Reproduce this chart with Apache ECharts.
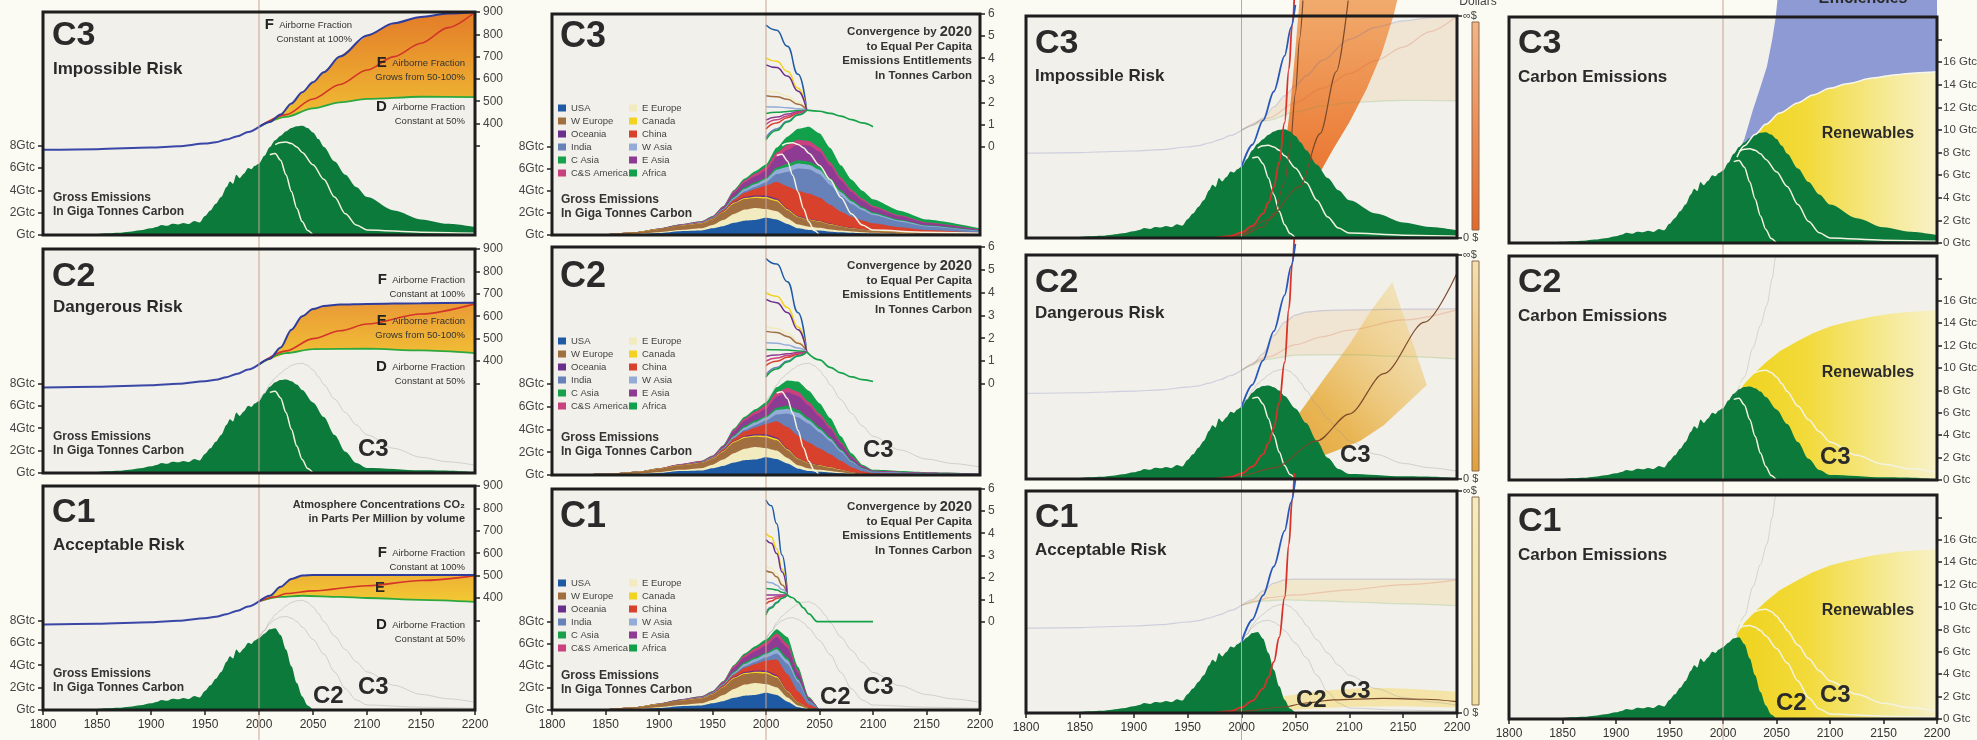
<!DOCTYPE html>
<html>
<head>
<meta charset="utf-8">
<title>Contraction and Convergence C1 C2 C3</title>
<script src="https://cdn.jsdelivr.net/npm/echarts@6/dist/echarts.min.js"></script>
<style>
  html, body { margin: 0; padding: 0; background: #fbfbf3; }
  #chart { width: 1977px; height: 740px; }
</style>
</head>
<body>
<div id="chart"></div>
<script>
const FONT = '"Liberation Sans", Arial, sans-serif';

// ---------- axis ticks ----------
const yearTicks = [1800, 1850, 1900, 1950, 2000, 2050, 2100, 2150, 2200];
const refYear = 2000;
const gtcLeftTicks = [0, 2, 4, 6, 8];
const ppmTicks = [300, 400, 500, 600, 700, 800, 900];
const ppmLabels = [400, 500, 600, 700, 800, 900];
const perCapitaTicks = [0, 1, 2, 3, 4, 5, 6];
const gtcRightTicks = [0, 2, 4, 6, 8, 10, 12, 14, 16, 18];
const gtcRightLabels = [0, 2, 4, 6, 8, 10, 12, 14, 16];
const dollarTicks = [0, 100];

// ---------- gross emissions (Gtc) ----------
const histYears = [1800, 1820, 1840, 1850, 1860, 1870, 1880, 1890, 1900, 1905, 1910, 1915, 1920, 1925, 1930, 1935, 1940, 1945, 1950, 1955, 1960, 1965, 1970, 1973, 1976, 1979, 1982, 1986, 1990, 1993, 1996, 2000];
const histGtc = [0, 0.02, 0.05, 0.1, 0.15, 0.2, 0.3, 0.42, 0.6, 0.72, 0.9, 0.82, 1.0, 0.95, 1.08, 0.98, 1.25, 1.12, 1.7, 2.2, 2.8, 3.4, 4.3, 4.8, 4.6, 5.4, 5.1, 5.5, 6.0, 5.9, 6.2, 6.4];
const c3Years = [2005, 2010, 2015, 2020, 2025, 2030, 2035, 2040, 2045, 2050, 2055, 2060, 2070, 2080, 2090, 2100, 2125, 2150, 2175, 2200];
const c3Gtc = [7.1, 7.9, 8.5, 8.9, 9.3, 9.6, 9.75, 9.8, 9.6, 9.2, 8.6, 7.9, 6.6, 5.4, 4.3, 3.4, 2.2, 1.4, 1.0, 0.7];
const c2Years = [2005, 2010, 2015, 2020, 2025, 2030, 2035, 2040, 2050, 2060, 2070, 2080, 2090, 2100, 2150, 2200];
const c2Gtc = [7.1, 7.7, 8.1, 8.3, 8.35, 8.2, 7.9, 7.4, 6.3, 5.0, 3.4, 1.9, 0.9, 0.45, 0.25, 0.15];
const c1Years = [2005, 2010, 2015, 2020, 2025, 2030, 2035, 2040, 2045, 2050];
const c1Gtc = [6.8, 7.2, 7.3, 6.7, 5.4, 3.9, 2.4, 1.2, 0.4, 0];

// ---------- CO2 concentrations (ppm) ----------
const ppmHistYears = [1800, 1850, 1900, 1925, 1950, 1960, 1970, 1980, 1990, 2000];
const ppmHist = [282, 285, 292, 298, 310, 316, 328, 343, 362, 385];
const c3FYears = [2000, 2010, 2020, 2030, 2040, 2050, 2060, 2075, 2100, 2125, 2150, 2175, 2200];
const c3F = [385, 407, 440, 490, 540, 585, 630, 700, 795, 850, 878, 893, 900];
const c3EYears = [2000, 2025, 2050, 2075, 2100, 2125, 2150, 2175, 2200];
const c3E = [385, 440, 510, 575, 640, 700, 760, 830, 900];
const c3DYears = [2000, 2025, 2050, 2075, 2100, 2150, 2200];
const c3D = [385, 430, 468, 495, 510, 520, 518];
const c2FYears = [2000, 2010, 2020, 2030, 2040, 2050, 2060, 2075, 2100, 2150, 2200];
const c2F = [385, 410, 460, 540, 600, 632, 645, 652, 655, 658, 660];
const c2EYears = [2000, 2025, 2050, 2075, 2100, 2150, 2200];
const c2E = [385, 445, 500, 535, 565, 610, 655];
const c2DYears = [2000, 2025, 2050, 2100, 2150, 2200];
const c2D = [385, 435, 453, 455, 447, 435];
const c1FYears = [2000, 2010, 2020, 2030, 2040, 2050, 2100, 2200];
const c1F = [385, 410, 450, 485, 500, 503, 503, 503];
const c1EYears = [2000, 2015, 2025, 2050, 2100, 2150, 2200];
const c1E = [385, 405, 420, 432, 455, 478, 500];
const c1DYears = [2000, 2020, 2040, 2075, 2100, 2150, 2200];
const c1D = [385, 405, 410, 405, 400, 392, 383];

// ---------- regional emissions (Gtc), stacking order bottom -> top ----------
const regions = ['USA', 'E Europe', 'W Europe', 'Canada', 'Oceania', 'China', 'India', 'W Asia', 'C Asia', 'E Asia', 'C&S America', 'Africa'];
const regHistYears = [1800, 1850, 1880, 1900, 1920, 1940, 1950, 1960, 1970, 1980, 1990, 2000];
const regHist = [
  [0, 0.02, 0.08, 0.18, 0.35, 0.4, 0.6, 0.8, 1.1, 1.3, 1.35, 1.55],
  [0, 0.01, 0.03, 0.07, 0.1, 0.2, 0.3, 0.55, 0.8, 1.0, 1.1, 0.8],
  [0, 0.07, 0.17, 0.3, 0.4, 0.45, 0.5, 0.7, 0.95, 0.95, 0.9, 0.95],
  [0, 0, 0, 0.01, 0.02, 0.02, 0.04, 0.05, 0.08, 0.1, 0.12, 0.15],
  [0, 0, 0, 0.01, 0.01, 0.02, 0.03, 0.05, 0.07, 0.08, 0.1, 0.12],
  [0, 0, 0, 0, 0.01, 0.02, 0.03, 0.1, 0.2, 0.4, 0.6, 0.9],
  [0, 0, 0, 0, 0.01, 0.02, 0.03, 0.05, 0.08, 0.13, 0.2, 0.3],
  [0, 0, 0, 0, 0.01, 0.02, 0.03, 0.05, 0.1, 0.2, 0.25, 0.3],
  [0, 0, 0, 0, 0, 0.01, 0.02, 0.05, 0.1, 0.15, 0.15, 0.1],
  [0, 0, 0, 0.01, 0.03, 0.05, 0.05, 0.1, 0.35, 0.45, 0.55, 0.65],
  [0, 0, 0, 0.01, 0.02, 0.03, 0.05, 0.07, 0.15, 0.2, 0.25, 0.3],
  [0, 0, 0, 0, 0.01, 0.02, 0.03, 0.05, 0.1, 0.15, 0.2, 0.25]
];
const regYearsC3 = [2010, 2020, 2030, 2040, 2050, 2060, 2070, 2080, 2090, 2100, 2125, 2150, 2200];
const regC3 = [
  [1.4, 1.0, 0.6, 0.45, 0.4, 0.3, 0.25, 0.2, 0.16, 0.13, 0.09, 0.06, 0.03],
  [0.75, 0.5, 0.35, 0.3, 0.25, 0.2, 0.15, 0.12, 0.1, 0.08, 0.05, 0.03, 0.01],
  [0.9, 0.75, 0.65, 0.6, 0.55, 0.45, 0.35, 0.28, 0.22, 0.18, 0.12, 0.08, 0.03],
  [0.14, 0.08, 0.06, 0.05, 0.05, 0.04, 0.03, 0.03, 0.02, 0.02, 0.01, 0.01, 0.005],
  [0.12, 0.07, 0.05, 0.05, 0.05, 0.04, 0.03, 0.02, 0.02, 0.02, 0.01, 0.01, 0.005],
  [1.5, 2.0, 2.3, 2.3, 2.1, 1.7, 1.3, 1.0, 0.8, 0.63, 0.43, 0.27, 0.11],
  [0.7, 1.3, 2.0, 2.2, 2.1, 1.8, 1.45, 1.15, 0.92, 0.74, 0.5, 0.32, 0.14],
  [0.4, 0.45, 0.45, 0.4, 0.4, 0.35, 0.3, 0.24, 0.19, 0.15, 0.1, 0.06, 0.03],
  [0.2, 0.3, 0.3, 0.3, 0.3, 0.25, 0.2, 0.16, 0.13, 0.1, 0.07, 0.04, 0.02],
  [0.95, 1.25, 1.4, 1.45, 1.35, 1.15, 0.9, 0.7, 0.56, 0.45, 0.31, 0.2, 0.08],
  [0.4, 0.45, 0.45, 0.4, 0.35, 0.3, 0.25, 0.2, 0.16, 0.13, 0.09, 0.06, 0.03],
  [0.45, 0.75, 1.0, 1.3, 1.3, 1.3, 1.1, 0.9, 0.72, 0.6, 0.42, 0.26, 0.11]
];
const regYearsC2 = [2010, 2020, 2030, 2040, 2050, 2060, 2070, 2080, 2090, 2100, 2150, 2200];
const regC2 = [
  [1.4, 1.0, 0.55, 0.35, 0.28, 0.22, 0.15, 0.08, 0.04, 0.02, 0.01, 0.01],
  [0.75, 0.5, 0.3, 0.22, 0.17, 0.13, 0.09, 0.05, 0.02, 0.01, 0.01, 0],
  [0.9, 0.7, 0.55, 0.45, 0.37, 0.29, 0.2, 0.11, 0.05, 0.03, 0.01, 0.01],
  [0.14, 0.08, 0.05, 0.04, 0.03, 0.03, 0.02, 0.01, 0.01, 0, 0, 0],
  [0.12, 0.07, 0.05, 0.04, 0.03, 0.03, 0.02, 0.01, 0.01, 0, 0, 0],
  [1.4, 1.85, 1.95, 1.75, 1.45, 1.13, 0.76, 0.43, 0.2, 0.1, 0.05, 0.03],
  [0.6, 1.2, 1.6, 1.65, 1.42, 1.14, 0.78, 0.44, 0.21, 0.1, 0.06, 0.04],
  [0.4, 0.42, 0.4, 0.3, 0.27, 0.22, 0.15, 0.08, 0.04, 0.02, 0.01, 0.01],
  [0.2, 0.28, 0.27, 0.22, 0.2, 0.15, 0.1, 0.06, 0.03, 0.01, 0.01, 0],
  [0.95, 1.15, 1.2, 1.08, 0.9, 0.72, 0.49, 0.27, 0.13, 0.07, 0.04, 0.02],
  [0.4, 0.4, 0.38, 0.3, 0.25, 0.2, 0.14, 0.08, 0.04, 0.02, 0.01, 0.01],
  [0.45, 0.65, 0.9, 1.0, 0.93, 0.74, 0.5, 0.28, 0.12, 0.07, 0.04, 0.02]
];
const regYearsC1 = [2010, 2020, 2030, 2040, 2050];
const regC1 = [
  [1.35, 0.75, 0.25, 0.06, 0],
  [0.7, 0.38, 0.15, 0.04, 0],
  [0.88, 0.55, 0.28, 0.08, 0],
  [0.13, 0.06, 0.03, 0.01, 0],
  [0.11, 0.05, 0.02, 0.01, 0],
  [1.4, 1.45, 0.95, 0.29, 0],
  [0.55, 0.95, 0.85, 0.28, 0],
  [0.38, 0.33, 0.18, 0.05, 0],
  [0.2, 0.22, 0.13, 0.04, 0],
  [0.9, 0.9, 0.55, 0.17, 0],
  [0.35, 0.35, 0.16, 0.05, 0],
  [0.35, 0.61, 0.35, 0.12, 0]
];

// ---------- per capita entitlements (tonnes carbon) ----------
const pcYearsC3 = [2000, 2010, 2020, 2030, 2038];
const pcC3 = [
  [5.5, 5.27, 4.54, 3.27, 1.65], [2.5, 2.45, 2.29, 2.01, 1.65], [2.3, 2.26, 2.14, 1.92, 1.65],
  [4.0, 3.86, 3.41, 2.64, 1.65], [3.7, 3.58, 3.19, 2.51, 1.65], [0.8, 1.07, 1.31, 1.51, 1.65],
  [0.4, 0.8, 1.15, 1.45, 1.65], [1.8, 1.79, 1.76, 1.71, 1.65], [1.5, 1.55, 1.59, 1.63, 1.65],
  [1.2, 1.34, 1.47, 1.58, 1.65], [1.0, 1.21, 1.39, 1.55, 1.65], [0.3, 0.73, 1.11, 1.43, 1.65]
];
const pcYearsC2 = [2000, 2010, 2020, 2030, 2038];
const pcC2 = [
  [5.5, 5.25, 4.48, 3.12, 1.4], [2.5, 2.43, 2.23, 1.86, 1.4], [2.3, 2.25, 2.08, 1.78, 1.4],
  [4.0, 3.84, 3.35, 2.49, 1.4], [3.7, 3.56, 3.13, 2.37, 1.4], [0.8, 0.99, 1.16, 1.3, 1.4],
  [0.4, 0.72, 1.0, 1.24, 1.4], [1.8, 1.78, 1.7, 1.57, 1.4], [1.5, 1.49, 1.48, 1.44, 1.4],
  [1.2, 1.26, 1.32, 1.37, 1.4], [1.0, 1.13, 1.24, 1.34, 1.4], [0.3, 0.65, 0.96, 1.22, 1.4]
];
const pcYearsC1 = [2000, 2005, 2010, 2015, 2020];
const pcC1 = [
  [5.5, 5.24, 4.43, 3.01, 1.2], [2.5, 2.42, 2.18, 1.75, 1.2], [2.3, 2.23, 2.03, 1.66, 1.2],
  [4.0, 3.83, 3.3, 2.38, 1.2], [3.7, 3.55, 3.08, 2.25, 1.2], [0.8, 0.93, 1.04, 1.14, 1.2],
  [0.4, 0.66, 0.88, 1.07, 1.2], [1.8, 1.76, 1.65, 1.45, 1.2], [1.5, 1.48, 1.43, 1.33, 1.2],
  [1.2, 1.2, 1.2, 1.2, 1.2], [1.0, 1.06, 1.12, 1.17, 1.2], [0.3, 0.61, 0.84, 1.06, 1.2]
];
const postYearsC3 = [2038, 2050, 2060, 2070, 2080, 2090, 2100];
const postC3 = [1.65, 1.6, 1.5, 1.38, 1.22, 1.07, 0.9];
const postYearsC2 = [2038, 2050, 2060, 2070, 2080, 2090, 2100];
const postC2 = [1.4, 1.05, 0.72, 0.48, 0.3, 0.18, 0.1];
const postYearsC1 = [2020, 2025, 2030, 2035, 2040, 2048, 2100];
const postC1 = [1.2, 1.08, 0.88, 0.62, 0.35, 0, 0];

// ---------- dollars (0 = 0 $, 100 = infinite) ----------
const redYears = [1975, 1990, 2000, 2010, 2020, 2025, 2030, 2035, 2040, 2044, 2047, 2049];
const redUsd = [0, 0.8, 2.5, 5.5, 11, 16, 23, 34, 52, 76, 96, 108];
const blueYears = [2000, 2010, 2020, 2030, 2040, 2046, 2050];
const blueUsd = [32, 42, 53, 66, 82, 95, 105];
const dmgC3UpYears = [1977, 1990, 2000, 2011, 2020, 2029, 2035, 2039, 2045, 2050, 2054];
const dmgC3Up = [0, 2, 4, 8, 13, 20, 28, 35, 58, 85, 108];
const dmgC3LoYears = [1992, 2000, 2010, 2023, 2040, 2054, 2070, 2085, 2100, 2116, 2130, 2141, 2145];
const dmgC3Lo = [0, 0.8, 2.5, 5, 10, 17, 27, 40, 52, 67, 83, 100, 108];
const dmgC3MidAYears = [1980, 2000, 2020, 2030, 2040, 2045, 2050, 2054, 2057];
const dmgC3MidA = [0, 1.2, 5, 11, 25, 40, 65, 90, 107];
const dmgC3MidBYears = [1982, 2000, 2023, 2054, 2073, 2088, 2099];
const dmgC3MidB = [0, 2, 8, 23, 47, 75, 107];
const dmgC2UpYears = [1977, 2000, 2023, 2050, 2077, 2100, 2120, 2140];
const dmgC2Up = [0, 5, 14, 27, 45, 60, 75, 88];
const dmgC2LoYears = [1992, 2020, 2050, 2085, 2110, 2132, 2150, 2172];
const dmgC2Lo = [0, 2, 6, 12, 17, 24, 32, 42];
const dmgC2MidYears = [1977, 2000, 2030, 2070, 2100, 2132, 2170, 2200];
const dmgC2Mid = [0, 1.5, 5, 17, 29, 47, 70, 92];
const dmgC1UpYears = [1977, 2000, 2020, 2039, 2060, 2085, 2110, 2132, 2160, 2200];
const dmgC1Up = [0, 2, 4.5, 7.4, 9.2, 10.4, 11.1, 11.3, 10.8, 9.6];
const dmgC1LoYears = [1990, 2010, 2040, 2060, 2100, 2150, 2200];
const dmgC1Lo = [0, 0.2, 1, 1.8, 2.8, 3, 2.5];
const dmgC1MidYears = [1977, 2000, 2039, 2060, 2085, 2132, 2170, 2200];
const dmgC1Mid = [0, 0.8, 2.7, 4.5, 5.9, 6.6, 6.2, 5.1];

// ---------- renewables / efficiencies (Gtc) ----------
const renewYears = [2013, 2020, 2030, 2040, 2053, 2070, 2084, 2100, 2116, 2140, 2162, 2180, 2200];
const renewGtc = [7.6, 8.6, 9.6, 10.5, 11.5, 12.4, 13.1, 13.7, 14.1, 14.6, 14.9, 15.05, 15.15];
const effYears = [2012, 2020, 2028, 2035, 2041, 2046, 2049, 2052, 2200];
const effGtc = [7.5, 9.2, 11.8, 13.8, 15.6, 18, 19.8, 22.5, 22.5];

// ---------- styling ----------
const regionColors = ['#1f5ba5', '#f1ebbf', '#a06e3f', '#f2d31f', '#6b2e8c', '#d8412c', '#6781b9', '#93acd8', '#18a04a', '#8e3b94', '#c9417f', '#13a04b'];
const GREEN = '#0b7a3a';
const WHITE_LINE = '#f3f3e2';
const FAINT = 'rgba(150,150,150,0.35)';
const GRID_BG = '#f1f0ea';
const cols = [
  { left: 43, right: 475 },
  { left: 552, right: 980 },
  { left: 1026, right: 1457 },
  { left: 1509, right: 1937 }
];
const rows = [
  [[12, 235], [249, 473], [486, 710]],
  [[14, 235], [247, 475], [489, 710]],
  [[16, 238], [255, 479], [491, 713]],
  [[17, 243], [256, 480], [495, 719]]
];
const tickStyle = { length: 5, lineStyle: { color: '#222', width: 1.5 } };
const labelStyle = { fontSize: 12, color: '#444', margin: 8, fontFamily: FONT };

function pairs(xs, ys) { return xs.map((x, i) => [x, ys[i]]); }

const totals = [
  pairs(histYears, histGtc).concat(pairs(c3Years, c3Gtc)),
  pairs(histYears, histGtc).concat(pairs(c2Years, c2Gtc)),
  pairs(histYears, histGtc).concat(pairs(c1Years, c1Gtc))
];
const futures = [
  pairs(c3Years, c3Gtc).slice(1),
  pairs(c2Years, c2Gtc).slice(2),
  pairs(c1Years, c1Gtc).slice(1)
];
const outlines = [
  [[refYear, 6.4]].concat(pairs(c3Years, c3Gtc)),
  [[refYear, 6.4]].concat(pairs(c2Years, c2Gtc)),
  [[refYear, 6.4]].concat(pairs(c1Years, c1Gtc))
];
const ppmSets = [
  { F: pairs(c3FYears, c3F), E: pairs(c3EYears, c3E), D: pairs(c3DYears, c3D) },
  { F: pairs(c2FYears, c2F), E: pairs(c2EYears, c2E), D: pairs(c2DYears, c2D) },
  { F: pairs(c1FYears, c1F), E: pairs(c1EYears, c1E), D: pairs(c1DYears, c1D) }
];
const ppmHistData = pairs(ppmHistYears, ppmHist);
const regFuture = [[regYearsC3, regC3], [regYearsC2, regC2], [regYearsC1, regC1]];
const pcSets = [[pcYearsC3, pcC3, postYearsC3, postC3], [pcYearsC2, pcC2, postYearsC2, postC2], [pcYearsC1, pcC1, postYearsC1, postC1]];
const dmgSets = [
  { up: pairs(dmgC3UpYears, dmgC3Up), lo: pairs(dmgC3LoYears, dmgC3Lo), mids: [pairs(dmgC3MidAYears, dmgC3MidA), pairs(dmgC3MidBYears, dmgC3MidB)] },
  { up: pairs(dmgC2UpYears, dmgC2Up), lo: pairs(dmgC2LoYears, dmgC2Lo), mids: [pairs(dmgC2MidYears, dmgC2Mid)] },
  { up: pairs(dmgC1UpYears, dmgC1Up), lo: pairs(dmgC1LoYears, dmgC1Lo), mids: [pairs(dmgC1MidYears, dmgC1Mid)] }
];
const ppmBandColors = [['#e37c29', '#f1c234'], ['#e99a37', '#f2c434'], ['#eeb236', '#f2c932']];

const option = {
  backgroundColor: '#fbfbf3',
  animation: false,
  textStyle: { fontFamily: FONT },
  grid: [], xAxis: [], yAxis: [], series: [], legend: [], graphic: []
};

function addPanel(c, r) {
  const top = rows[c][r][0], bottom = rows[c][r][1];
  const left = cols[c].left, width = cols[c].right - cols[c].left, height = bottom - top;
  const gi = option.grid.length;
  const last = r === 2;
  option.grid.push({ left, top, width, height, show: true, backgroundColor: GRID_BG, borderWidth: 0, containLabel: false, outerBoundsMode: 'none' });
  option.xAxis.push({
    type: 'value', gridIndex: gi,
    min: yearTicks[0], max: yearTicks[yearTicks.length - 1], interval: yearTicks[1] - yearTicks[0],
    axisLine: { show: false }, splitLine: { show: false },
    axisTick: Object.assign({ show: last }, tickStyle),
    axisLabel: { show: last, fontSize: 12, color: '#333', margin: 9, fontFamily: FONT, formatter: v => String(v) }
  });
  option.graphic.push({ type: 'rect', z: 100, silent: true, shape: { x: left, y: top, width, height }, style: { fill: 'none', stroke: '#1d1d1d', lineWidth: 3 } });
  return gi;
}
function addY(gi, o) {
  option.yAxis.push(Object.assign({ type: 'value', gridIndex: gi, splitLine: { show: false } }, o));
  return option.yAxis.length - 1;
}
function hiddenY(gi, min, max) { return addY(gi, { show: false, min, max }); }
function gtcLeftAxis(gi) {
  return addY(gi, {
    position: 'left', min: 0, max: 20, interval: 2, axisLine: { show: false },
    axisTick: Object.assign({ show: true, customValues: gtcLeftTicks }, tickStyle),
    axisLabel: Object.assign({ customValues: gtcLeftTicks, formatter: v => (v === 0 ? '' : v) + 'Gtc' }, labelStyle)
  });
}
function area(gi, yi, data, color, extra) {
  option.series.push(Object.assign({
    type: 'line', xAxisIndex: gi, yAxisIndex: yi, data, symbol: 'none', smooth: 0.3, smoothMonotone: 'x',
    lineStyle: { width: 0 }, areaStyle: { color, opacity: 1 }, itemStyle: { color }, silent: true
  }, extra || {}));
}
function line(gi, yi, data, color, width, extra) {
  option.series.push(Object.assign({
    type: 'line', xAxisIndex: gi, yAxisIndex: yi, data, symbol: 'none', smooth: 0.3, smoothMonotone: 'x',
    lineStyle: { color, width }, itemStyle: { color }, silent: true
  }, extra || {}));
}
function poly(gi, yi, upper, lower, fill) {
  option.series.push({
    type: 'custom', xAxisIndex: gi, yAxisIndex: yi, silent: true, clip: false,
    data: [upper[0]],
    renderItem: (params, api) => {
      const pts = upper.concat(lower.slice().reverse()).map(p => api.coord(p));
      return { type: 'polygon', shape: { points: pts }, style: { fill } };
    }
  });
}
function txt(x, y, text, size, o) {
  option.graphic.push({
    type: 'text', z: 101, silent: true, x, y,
    style: Object.assign({ text, fontSize: size, fontWeight: 'bold', fontFamily: FONT, fill: '#2a2a2a', align: 'left', verticalAlign: 'middle' }, o || {})
  });
}
function afLabel(x, y, letter, line2) {
  txt(x, y, '{L|' + letter + '}  Airborne Fraction', 9.5, { align: 'right', fontWeight: 'normal', fill: '#333', rich: { L: { fontSize: 15, fontWeight: 'bold', fill: '#222', fontFamily: FONT } } });
  txt(x, y + 14.5, line2, 9.5, { align: 'right', fontWeight: 'normal', fill: '#333' });
}
function grossLabel(x, y) {
  txt(x, y, 'Gross Emissions', 12, { fill: '#333' });
  txt(x, y + 14, 'In Giga Tonnes Carbon', 12, { fill: '#333' });
}
function convBlock(x, y) {
  txt(x, y, 'Convergence by {b|2020}', 11.5, { align: 'right', fill: '#333', rich: { b: { fontSize: 14.5, fontWeight: 'bold', fill: '#333', fontFamily: FONT } } });
  txt(x, y + 14.5, 'to Equal Per Capita', 11.5, { align: 'right', fill: '#333' });
  txt(x, y + 29, 'Emissions Entitlements', 11.5, { align: 'right', fill: '#333' });
  txt(x, y + 43.5, 'In Tonnes Carbon', 11.5, { align: 'right', fill: '#333' });
}
function faintOutlines(gi, yi, r) {
  for (let k = 0; k < r; k++) line(gi, yi, outlines[k], FAINT, 1);
}
function whiteLines(gi, yi, r) {
  for (let k = r + 1; k < 3; k++) line(gi, yi, futures[k], WHITE_LINE, 1.5);
}

// ---------- column 1: concentrations ----------
function buildCol1(r) {
  const gi = addPanel(0, r);
  const yG = gtcLeftAxis(gi);
  const yP = addY(gi, {
    position: 'right', min: -100, max: 900, interval: 100, axisLine: { show: false },
    axisTick: Object.assign({ show: true, customValues: ppmTicks }, tickStyle),
    axisLabel: Object.assign({ customValues: ppmLabels }, labelStyle)
  });
  const p = ppmSets[r];
  poly(gi, yP, p.F, p.D, new echarts.graphic.LinearGradient(0, 0, 0, 1, [
    { offset: 0, color: ppmBandColors[r][0] }, { offset: 1, color: ppmBandColors[r][1] }]));
  line(gi, yP, ppmHistData, '#3b47a6', 2);
  line(gi, yP, p.D, '#2ea83e', 1.8);
  line(gi, yP, p.E, '#d4352a', 1.6);
  line(gi, yP, p.F, '#2f3d9c', 2);
  faintOutlines(gi, yG, r);
  area(gi, yG, totals[r], GREEN);
  whiteLines(gi, yG, r);
}

// ---------- column 2: regional contraction & convergence ----------
function buildCol2(r) {
  const gi = addPanel(1, r);
  const yG = gtcLeftAxis(gi);
  const yC = addY(gi, {
    position: 'right', min: -4, max: 6, interval: 1, axisLine: { show: false },
    axisTick: Object.assign({ show: true, customValues: perCapitaTicks }, tickStyle),
    axisLabel: Object.assign({ customValues: perCapitaTicks }, labelStyle)
  });
  faintOutlines(gi, yG, r);
  // cumulative stack table, painted from the top band down
  const years = regHistYears.concat(regFuture[r][0]);
  const rowsVals = regions.map((_, k) => regHist[k].concat(regFuture[r][1][k]));
  const cum = [];
  rowsVals.forEach((vals, k) => cum.push(vals.map((v, i) => v + (k ? cum[k - 1][i] : 0))));
  for (let k = regions.length - 1; k >= 0; k--) {
    area(gi, yG, pairs(years, cum[k]), regionColors[k], { name: regions[k], smooth: 0.2 });
  }
  whiteLines(gi, yG, r);
  const pc = pcSets[r];
  regions.forEach((name, k) => line(gi, yC, pairs(pc[0], pc[1][k]), regionColors[k], 1.5, { name, smooth: 0.5 }));
  line(gi, yC, pairs(pc[2], pc[3]), '#16a24a', 1.7, { smooth: 0.4 });
  option.legend.push({
    orient: 'vertical', left: 558, top: rows[1][r][0] + 88, height: 82, itemGap: 1,
    itemWidth: 8, itemHeight: 7, icon: 'rect', padding: 0, selectedMode: false,
    textStyle: { fontSize: 9.5, color: '#444', fontFamily: FONT, lineHeight: 12 },
    data: regions.filter((_, i) => i % 2 === 0).concat(regions.filter((_, i) => i % 2 === 1))
  });
}

// ---------- column 3: damages vs. costs ----------
const dmgFills = [
  () => new echarts.graphic.LinearGradient(0, 0, 0, 1, [{ offset: 0, color: '#f1ab6d' }, { offset: 0.55, color: '#ec8440' }, { offset: 1, color: '#e5621f' }]),
  () => new echarts.graphic.LinearGradient(0, 1, 1, 0, [{ offset: 0, color: 'rgba(224,148,36,1)' }, { offset: 0.45, color: 'rgba(232,176,70,0.9)' }, { offset: 1, color: 'rgba(245,222,160,0.45)' }]),
  () => 'rgba(244,226,160,0.9)'
];
const barColors = [['#f2b588', '#e4682c'], ['#f3e1b4', '#e0a03e'], ['#f4ecbf', '#eee0a2']];
function buildCol3(r) {
  const gi = addPanel(2, r);
  const yG = hiddenY(gi, 0, 20);
  const yP = hiddenY(gi, -100, 900);
  const yD = addY(gi, {
    position: 'right', min: 0, max: 100, interval: 100, axisLine: { show: false },
    axisTick: Object.assign({ show: true, customValues: dollarTicks }, tickStyle),
    axisLabel: Object.assign({ customValues: dollarTicks, formatter: v => (v === 0 ? '0 $' : '\u221E$') }, labelStyle, { fontSize: 11, margin: 6 })
  });
  const p = ppmSets[r];
  poly(gi, yP, p.F, p.D, r === 2 ? 'rgba(240,215,150,0.35)' : 'rgba(240,195,140,0.25)');
  line(gi, yP, ppmHistData, 'rgba(80,90,180,0.22)', 1.2);
  line(gi, yP, p.F, 'rgba(80,90,180,0.22)', 1.2);
  line(gi, yP, p.E, 'rgba(210,80,60,0.22)', 1.2);
  line(gi, yP, p.D, 'rgba(70,160,80,0.18)', 1.2);
  faintOutlines(gi, yG, r);
  area(gi, yG, totals[r], GREEN);
  whiteLines(gi, yG, r);
  const d = dmgSets[r];
  poly(gi, yD, d.up, d.lo, dmgFills[r]());
  d.mids.forEach(m => line(gi, yD, m, '#7b4a2c', 1.2, { clip: false }));
  line(gi, yD, pairs(redYears, redUsd), '#d9322b', 1.8, { clip: false, smooth: 0.4 });
  line(gi, yD, pairs(blueYears, blueUsd), '#2a58b8', 1.8, { clip: false });
  const top = rows[2][r][0], bottom = rows[2][r][1];
  option.graphic.push({
    type: 'rect', z: 100, silent: true,
    shape: { x: cols[2].right + 15, y: top + 6, width: 7, height: bottom - top - 14 },
    style: { fill: new echarts.graphic.LinearGradient(0, 0, 0, 1, [{ offset: 0, color: barColors[r][0] }, { offset: 1, color: barColors[r][1] }]), stroke: '#8a6a4a', lineWidth: 1 }
  });
}

// ---------- column 4: carbon emissions / renewables ----------
function buildCol4(r) {
  const gi = addPanel(3, r);
  const yG = addY(gi, {
    position: 'right', min: 0, max: 20, interval: 2, axisLine: { show: false },
    axisTick: Object.assign({ show: true, customValues: gtcRightTicks }, tickStyle),
    axisLabel: Object.assign({ customValues: gtcRightLabels, formatter: v => v + ' Gtc' }, labelStyle, { fontSize: 11.5, margin: 6 })
  });
  const renew = pairs(renewYears, renewGtc);
  const eff = pairs(effYears, effGtc);
  const base = [[renewYears[0], 0], [renewYears[renewYears.length - 1], 0]];
  if (r === 0) poly(gi, yG, eff, [[effYears[0], 0], [effYears[effYears.length - 1], 0]], '#8e9ad3');
  poly(gi, yG, renew, base, new echarts.graphic.LinearGradient(0, 0, 1, 0, [
    { offset: 0, color: '#efd31e' }, { offset: 0.35, color: '#f2da3a' }, { offset: 0.7, color: '#f5e88a' }, { offset: 1, color: '#f8f1c8' }]));
  if (r > 0) line(gi, yG, eff.slice(0, -1), 'rgba(150,150,150,0.3)', 1);
  area(gi, yG, totals[r], GREEN);
  for (let k = 0; k < 3; k++) if (k !== r) line(gi, yG, futures[k], WHITE_LINE, 1.5);
  if (r === 0) line(gi, yG, renew, '#f7f7ee', 1.5);
}

for (let r = 0; r < 3; r++) { buildCol1(r); buildCol2(r); buildCol3(r); buildCol4(r); }

// vertical 2000 reference line across each column
cols.forEach(c => {
  const gi = option.grid.length;
  option.grid.push({ left: c.left, width: c.right - c.left, top: 0, height: 740, show: false, outerBoundsMode: 'none' });
  option.xAxis.push({ type: 'value', gridIndex: gi, min: yearTicks[0], max: yearTicks[yearTicks.length - 1], show: false });
  const yi = hiddenY(gi, 0, 1);
  line(gi, yi, [[refYear, 0], [refYear, 1]], '#c9a494', 1, { z: 20, smooth: false });
});

// ---------- annotations ----------
const risks = ['Impossible Risk', 'Dangerous Risk', 'Acceptable Risk'];
// column 1
txt(52, 36, 'C3', 34); txt(53, 69, risks[0], 17);
afLabel(352, 25, 'F', 'Constant at 100%');
afLabel(465, 63, 'E', 'Grows from 50-100%');
afLabel(465, 107, 'D', 'Constant at 50%');
grossLabel(53, 198);
txt(52, 277, 'C2', 34); txt(53, 307, risks[1], 17);
afLabel(465, 280, 'F', 'Constant at 100%');
afLabel(465, 321, 'E', 'Grows from 50-100%');
afLabel(465, 367, 'D', 'Constant at 50%');
grossLabel(53, 437);
txt(358, 449, 'C3', 24);
txt(52, 513, 'C1', 34); txt(53, 545, risks[2], 17);
txt(465, 505, 'Atmosphere Concentrations CO\u2082', 11, { align: 'right', fill: '#333' });
txt(465, 519, 'in Parts Per Million by volume', 11, { align: 'right', fill: '#333' });
afLabel(465, 553, 'F', 'Constant at 100%');
txt(380, 588, 'E', 15, { align: 'center' });
afLabel(465, 625, 'D', 'Constant at 50%');
grossLabel(53, 674);
txt(313, 696, 'C2', 24); txt(358, 687, 'C3', 24);
// column 2
txt(560, 37, 'C3', 36); convBlock(972, 32); grossLabel(561, 200);
txt(560, 277, 'C2', 36); convBlock(972, 266); grossLabel(561, 438); txt(863, 450, 'C3', 24);
txt(560, 517, 'C1', 36); convBlock(972, 507); grossLabel(561, 676); txt(820, 697, 'C2', 24); txt(863, 687, 'C3', 24);
// column 3
txt(1035, 44, 'C3', 34); txt(1035, 76, risks[0], 17);
txt(1035, 283, 'C2', 34); txt(1035, 313, risks[1], 17); txt(1340, 455, 'C3', 24);
txt(1035, 518, 'C1', 34); txt(1035, 550, risks[2], 17); txt(1296, 700, 'C2', 24); txt(1340, 691, 'C3', 24);
txt(1478, 2, 'Dollars', 12, { align: 'center', fontWeight: 'normal', fill: '#444' });
// column 4
txt(1518, 44, 'C3', 34); txt(1518, 77, 'Carbon Emissions', 17); txt(1868, 134, 'Renewables', 16, { align: 'center' });
txt(1863, -1, 'Efficiencies', 16, { align: 'center' });
txt(1518, 283, 'C2', 34); txt(1518, 316, 'Carbon Emissions', 17); txt(1868, 373, 'Renewables', 16, { align: 'center' }); txt(1820, 457, 'C3', 24);
txt(1518, 522, 'C1', 34); txt(1518, 555, 'Carbon Emissions', 17); txt(1868, 611, 'Renewables', 16, { align: 'center' });
txt(1776, 703, 'C2', 24); txt(1820, 695, 'C3', 24);

const chart = echarts.init(document.getElementById('chart'));
chart.setOption(option);
</script>
</body>
</html>
